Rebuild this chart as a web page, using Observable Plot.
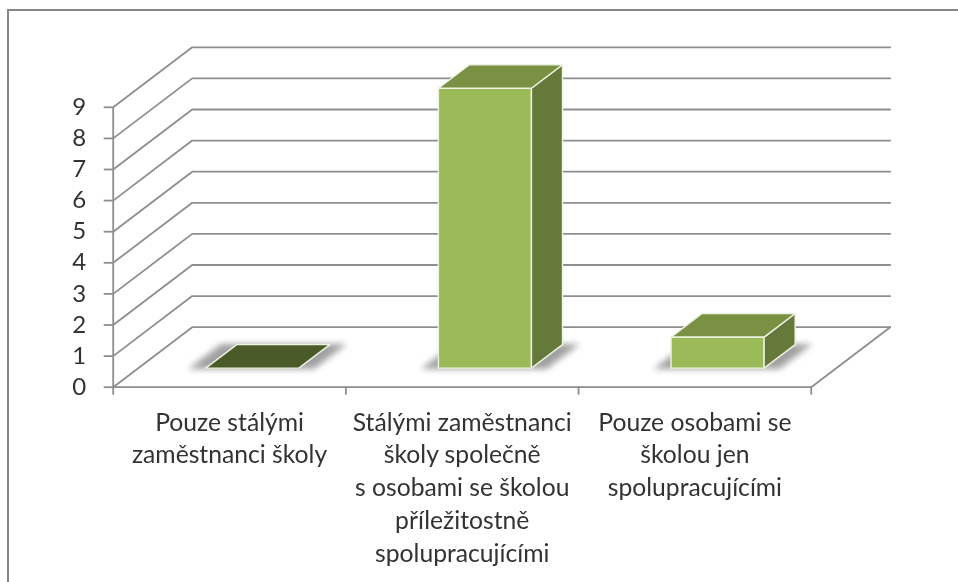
<!DOCTYPE html>
<html><head><meta charset="utf-8">
<script src="https://cdn.jsdelivr.net/npm/d3@7"></script>
<script src="https://cdn.jsdelivr.net/npm/@observablehq/plot@0.6"></script>
<style>
html,body{margin:0;padding:0;background:#fff;overflow:hidden}
#frame{position:absolute;left:7px;top:9px;width:951px;height:573px;border-left:2px solid #868686;border-top:2px solid #868686}
#chart{position:absolute;left:0;top:0;filter:blur(0.45px)}
</style></head><body>
<div id="frame"></div><div id="chart"></div>
<script>
const categories = ["Pouze stálými\nzaměstnanci školy","Stálými zaměstnanci\nškoly společně\ns osobami se školou\npříležitostně\nspolupracujícími","Pouze osobami se\nškolou jen\nspolupracujícími"];
const values = [0, 9, 1];
const yTicks = [0,1,2,3,4,5,6,7,8,9];
const xBoundaries = [0,1,2,3];
const colors = {front:"#9bbb59", top:"#7a9144", side:"#64793a", empty:"#4a5a29"};
const barStart = 0.29, barEnd = 0.69, depthStart = 0.317, depthEnd = 0.71;
// oblique projection: one unit of depth in category / value units
const kx = 0.3395, ky = 1.93;
const P = (c,v,d) => ({x:c+d*kx, y:v+d*ky});
const path = (id,color,pts) => [...pts,pts[0]].map(([c,v,d]) => ({id,color,...P(c,v,d)}));

const grid = [];
for (const v of yTicks) for (const [c,d] of [[0,0],[0,1],[3,1]]) grid.push({id:v,...P(c,v,d)});
const floor = [[0,0,0],[3,0,0],[3,0,1]].map(([c,v,d]) => P(c,v,d));

const faces = [], shadows = [];
values.forEach((v,i) => {
  const a=i+barStart, b=i+barEnd, d0=depthStart, d1=depthEnd;
  shadows.push(...path("s"+i,"#888",[[a-.07,0,d0-.015],[b+.07,0,d0-.015],[b+.07,0,d1+.01],[a-.07,0,d1+.01]]));
  if (v>0) {
    faces.push(...path("f"+i,colors.front,[[a,0,d0],[b,0,d0],[b,v,d0],[a,v,d0]]));
    faces.push(...path("r"+i,colors.side,[[b,0,d0],[b,0,d1],[b,v,d1],[b,v,d0]]));
  }
  faces.push(...path("t"+i,v>0?colors.top:colors.empty,[[a,v,d0],[b,v,d0],[b,v,d1],[a,v,d1]]));
});

const lineColor = "#8e8e8e";
const chart = Plot.plot({
  width:958, height:582,
  marginLeft:112.7, marginRight:147.3, marginTop:106.8, marginBottom:195.3,
  style:{fontFamily:"Lato, sans-serif", background:"transparent", overflow:"visible"},
  x:{domain:[0,3], label:null, axis:null},
  y:{domain:[0,9], label:null, axis:null},
  color:{type:"identity"},
  marks:[
    Plot.line(grid,{x:"x",y:"y",z:"id",stroke:lineColor,strokeWidth:1.8}),
    Plot.line(floor,{x:"x",y:"y",stroke:lineColor,strokeWidth:1.8}),
    Plot.ruleX([0],{y1:0,y2:9,stroke:lineColor,strokeWidth:1.8}),
    Plot.axisY({ticks:yTicks,tickSize:9,tickPadding:18,fontSize:24,stroke:lineColor,strokeWidth:1.8,fill:"#333",label:null,tickFormat:d=>d}),
    Plot.axisX({ticks:xBoundaries,tickSize:8,tickFormat:()=>"",stroke:lineColor,strokeWidth:1.8,label:null}),
    Plot.line(shadows,{x:"x",y:"y",z:"id",fill:"#a0a0a0",stroke:"none",imageFilter:"blur(3px)"}),
    Plot.line(faces,{x:"x",y:"y",z:"id",fill:"color",stroke:"#eef2e2",strokeWidth:1.4,strokeLinejoin:"round"}),
    Plot.text(categories,{x:(d,i)=>i+0.5,y:()=>0,text:d=>d,dy:20,lineAnchor:"top",textAnchor:"middle",lineHeight:1.33,fontSize:24.7,fill:"#333"})
  ]
});
document.getElementById("chart").append(chart);
</script></body></html>
